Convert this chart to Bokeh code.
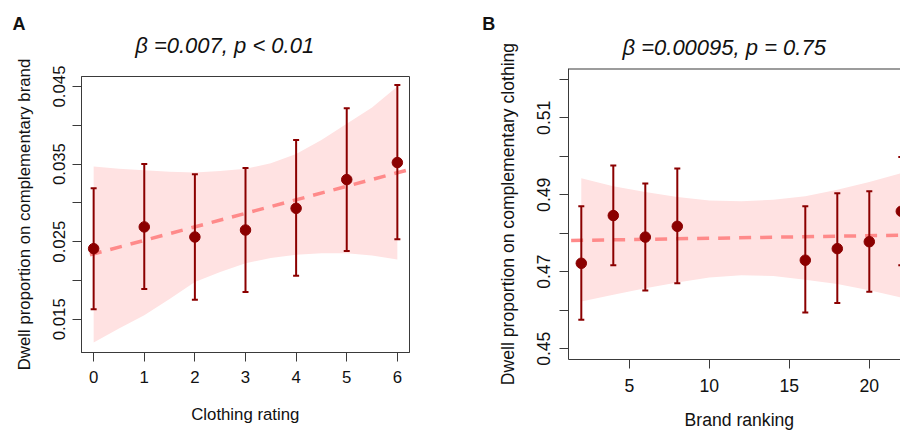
import math
from bokeh.plotting import figure
from bokeh.layouts import row
from bokeh.models import Range1d, FixedTicker, Slope, Label, Span, Title
from bokeh.embed import file_html
from bokeh.resources import INLINE

# ---------------- Panel A data ----------------
a_rating = [0, 1, 2, 3, 4, 5, 6]
a_mean = [0.0241, 0.0269, 0.0256, 0.0265, 0.0293, 0.0330, 0.0352]
a_upper = [0.0319, 0.0350, 0.0337, 0.0345, 0.0381, 0.0422, 0.0452]
a_lower = [0.0163, 0.0189, 0.0175, 0.0185, 0.0206, 0.0238, 0.0253]
a_band_x = [0, 0.5, 1, 1.5, 2, 2.5, 3, 3.5, 4, 4.5, 5, 5.5, 6]
a_band_hi = [0.0347, 0.0344, 0.0342, 0.0340, 0.0339, 0.0341, 0.0344, 0.0351,
             0.0363, 0.0381, 0.0402, 0.0423, 0.0450]
a_band_lo = [0.0120, 0.0138, 0.0155, 0.0176, 0.0198, 0.0211, 0.0222, 0.0229,
             0.0233, 0.0235, 0.0235, 0.0232, 0.0227]
a_slope = 0.001744
a_intercept = 0.02342
a_title = "\u03b2 =0.007, p < 0.01"
a_xlabel = "Clothing rating"
a_ylabel = "Dwell proportion on complementary brand"
a_xticks = [0, 1, 2, 3, 4, 5, 6]
a_xtick_labels = ["0", "1", "2", "3", "4", "5", "6"]
a_yticks = [0.015, 0.025, 0.035, 0.045]
a_ytick_labels = ["0.015", "0.025", "0.035", "0.045"]
a_yticks_minor = [0.02, 0.03, 0.04]

# ---------------- Panel B data ----------------
b_rank = [2, 4, 6, 8, 16, 18, 20, 22]
b_mean = [0.4722, 0.4846, 0.4790, 0.4818, 0.4730, 0.4760, 0.4778, 0.4857]
b_upper = [0.4870, 0.4976, 0.4929, 0.4968, 0.4870, 0.4904, 0.4909, 0.4998]
b_lower = [0.4575, 0.4717, 0.4651, 0.4670, 0.4594, 0.4619, 0.4648, 0.4717]
b_band_x = [2, 4, 6, 8, 10, 12, 14, 16, 18, 20, 22]
b_band_hi = [0.4943, 0.4922, 0.4907, 0.4894, 0.4885, 0.4883, 0.4887, 0.4896,
             0.4913, 0.4933, 0.4956]
b_band_lo = [0.4623, 0.4640, 0.4657, 0.4672, 0.4685, 0.4691, 0.4689, 0.4679,
             0.4668, 0.4652, 0.4633]
b_slope = 0.0000673
b_intercept = 0.47802
b_title = "\u03b2 =0.00095, p = 0.75"
b_xlabel = "Brand ranking"
b_ylabel = "Dwell proportion on complementary clothing"
b_xticks = [5, 10, 15, 20]
b_xtick_labels = ["5", "10", "15", "20"]
b_yticks = [0.45, 0.47, 0.49, 0.51]
b_ytick_labels = ["0.45", "0.47", "0.49", "0.51"]
b_yticks_minor = [0.46, 0.48, 0.50, 0.52]

# ---------------- style ----------------
FONT = "Liberation Sans"
DARK = "#8B0000"
BAND = "#FFE2E2"
LINE = "#FF8A8A"
AXC = "#3a3a3a"
TXT = "#111111"

H = 434


def style_axis(ax, ticks, labels, minor, size, standoff, tick_out=9):
    ax.ticker = FixedTicker(ticks=ticks, minor_ticks=minor)
    ax.major_label_overrides = {t: l for t, l in zip(ticks, labels)}
    ax.major_label_text_font = FONT
    ax.major_label_text_font_size = size
    ax.major_label_text_color = TXT
    ax.major_label_standoff = standoff
    ax.major_tick_in = 0
    ax.major_tick_out = tick_out
    ax.minor_tick_in = 0
    ax.minor_tick_out = tick_out
    ax.major_tick_line_color = AXC
    ax.minor_tick_line_color = AXC
    ax.axis_line_color = AXC
    ax.axis_label_text_font = FONT
    ax.axis_label_text_font_size = size
    ax.axis_label_text_font_style = "normal"
    ax.axis_label_text_color = TXT


def make_panel(width, border, xr, yr, xs, mean, lo, hi, bx, bhi, blo, slope,
               intercept, xt, xtl, yt, ytl, ytm, fsize, xstand, ystand,
               ylabel, ylabel_stand, outline):
    left, right, top, bottom = border
    p = figure(width=width, height=H, x_range=Range1d(*xr), y_range=Range1d(*yr),
               output_backend="svg", toolbar_location=None, title=None,
               min_border_left=left, min_border_right=right,
               min_border_top=top, min_border_bottom=bottom)
    # each panel keeps its own frame (no frame alignment inside the row)
    try:
        p.frame_align = False
    except Exception:
        pass
    p.xgrid.visible = False
    p.ygrid.visible = False
    p.background_fill_color = "white"
    p.border_fill_color = "white"
    xax = p.below[0]
    yax = p.left[0]
    style_axis(xax, xt, xtl, [], fsize, xstand)
    style_axis(yax, yt, ytl, ytm, fsize, ystand)
    yax.major_label_orientation = "vertical"
    yax.axis_label = ylabel
    yax.axis_label_standoff = ylabel_stand
    if outline:
        p.outline_line_color = AXC
        p.outline_line_width = 1
    else:
        # panel cut at the right edge: only the top border of the box is drawn
        p.outline_line_color = None
        p.add_layout(Span(location=yr[1], dimension="width", line_color=AXC,
                          line_width=2))

    band = p.varea(x=bx, y1=blo, y2=bhi, fill_color=BAND, fill_alpha=1.0)
    band.level = "image"
    sl = Slope(gradient=slope, y_intercept=intercept, line_color=LINE,
               line_width=3.5, line_dash="12 9", level="underlay")
    p.add_layout(sl)
    p.segment(x0=xs, y0=lo, x1=xs, y1=hi, line_color=DARK, line_width=2)
    p.scatter(x=xs, y=hi, marker="dash", size=6, line_color=DARK, line_width=2)
    p.scatter(x=xs, y=lo, marker="dash", size=6, line_color=DARK, line_width=2)
    p.scatter(x=xs, y=mean, marker="circle", size=10.5, fill_color=DARK,
              line_color=DARK)
    return p


def page_to_data(frame, xr, yr, px, py):
    l, r, t, b = frame
    x = xr[0] + (px - l) * (xr[1] - xr[0]) / (r - l)
    y = yr[0] + (b - py) * (yr[1] - yr[0]) / (b - t)
    return x, y


def add_text(p, side, frame, xr, yr, px, py, text, size, style="normal",
             align="left"):
    # py is the vertical centre of the glyphs
    x, y = page_to_data(frame, xr, yr, px, py)
    p.add_layout(Label(x=x, y=y, text=text, text_font=FONT, text_font_size=size,
                       text_font_style=style, text_align=align,
                       text_baseline="middle", text_color=TXT), side)


# ---------------- Panel A ----------------
A_W = 450
A_BORDER = (81, 41, 76, H - 352)           # left, right, top, bottom
A_XR = (-0.24, 6.24)
A_YR = (0.01071, 0.04629)
A_FRAME = (A_BORDER[0], A_W - A_BORDER[1], A_BORDER[2], H - A_BORDER[3])
pa = make_panel(A_W, A_BORDER, A_XR, A_YR, a_rating, a_mean, a_lower, a_upper,
                a_band_x, a_band_hi, a_band_lo, a_slope, a_intercept,
                a_xticks, a_xtick_labels, a_yticks, a_ytick_labels, a_yticks_minor,
                "16.8px", 9, 7, a_ylabel, 17, True)
add_text(pa, "above", A_FRAME, A_XR, A_YR, 224.2, 45, a_title, "22px", "italic", "center")
add_text(pa, "above", A_FRAME, A_XR, A_YR, 12, 23, "A", "18px", "bold")
add_text(pa, "below", A_FRAME, A_XR, A_YR, 244.8, 413.5, a_xlabel, "16.8px", "normal", "center")

# ---------------- Panel B ----------------
B_W = 450
B_BORDER = (118, 0, 68, H - 359)
B_PX_PER_UNIT = 16.0
B_XR = (1.2, 1.2 + (B_W - B_BORDER[0] - B_BORDER[1]) / B_PX_PER_UNIT)
B_YR = (0.4472, 0.5228)
B_LEFT = A_W
B_FRAME = (B_LEFT + B_BORDER[0], B_LEFT + B_W - B_BORDER[1], B_BORDER[2], H - B_BORDER[3])
pb = make_panel(B_W, B_BORDER, B_XR, B_YR, b_rank, b_mean, b_lower, b_upper,
                b_band_x, b_band_hi, b_band_lo, b_slope, b_intercept,
                b_xticks, b_xtick_labels, b_yticks, b_ytick_labels, b_yticks_minor,
                "17.6px", 10, 9, b_ylabel, 17, False)
pb.add_layout(Title(text=b_title, text_font=FONT, text_font_size="22px",
                    text_font_style="italic", text_color=TXT, align="left",
                    offset=54, standoff=18), "above")
add_text(pb, "above", B_FRAME, B_XR, B_YR, 481.7, 23, "B", "18px", "bold")
pb.below[0].axis_label = "\u00a0\u00a0" + b_xlabel
pb.below[0].axis_label_standoff = 15

layout = row(pa, pb)
open("out.html", "w").write(file_html(layout, INLINE))
